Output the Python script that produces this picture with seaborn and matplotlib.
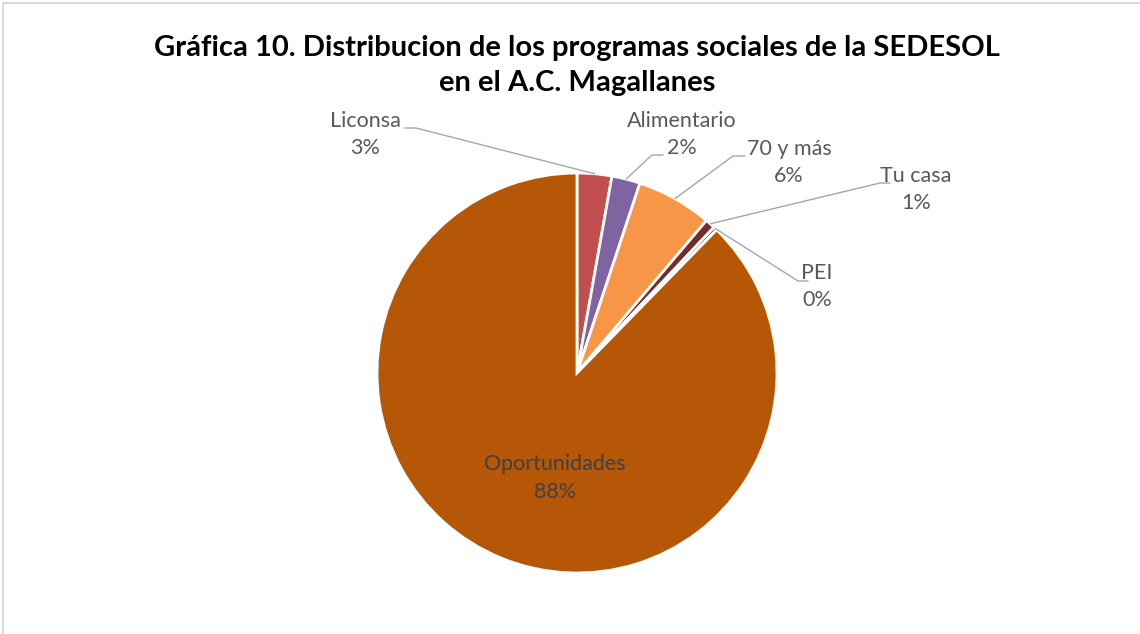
import numpy as np
import matplotlib
matplotlib.use("Agg")
import matplotlib.pyplot as plt
import seaborn as sns

# Data (percent of programs)
programas = ["Liconsa", "Alimentario", "70 y más", "Tu casa", "PEI", "Oportunidades"]
valores = [2.8, 2.3, 6.1, 0.8, 0.3, 87.7]
colores = ["#C0504D", "#8064A2", "#F79646", "#772C2A", "#5F497A", "#B65708"]

sns.set_theme(style="white")
plt.rcParams["font.family"] = ["Lato", "DejaVu Sans"]

W, H = 1140, 634
fig = plt.figure(figsize=(W / 100, H / 100), dpi=100)
ax = fig.add_axes([0, 0, 1, 1])

cx, cy, r = 577, H - 373, 200
wedges, _ = ax.pie(valores, colors=colores, startangle=90, counterclock=False,
                   center=(cx, cy), radius=r, frame=True,
                   wedgeprops=dict(edgecolor="white", linewidth=2))
ax.set_xlim(0, W)
ax.set_ylim(0, H)
ax.set_aspect("equal")
ax.axis("off")

# chart frame (light gray border at left/top)
ax.plot([3, 3, W + 5], [-5, H - 3, H - 3], color="#D9D9D9", lw=1.5)

total = sum(valores)
pcts = [f"{round(v / total * 100):.0f}%" for v in valores]

# label layout: text centre (x, y in px from top), elbow point, line end near text
layout = {
    "Liconsa": dict(txt=(365, 121), elbow=(416, 128), end=(405, 128)),
    "Alimentario": dict(txt=(682, 121), elbow=(652, 155), end=(663, 155)),
    "70 y más": dict(txt=(789, 149), elbow=(733, 156), end=(745, 156)),
    "Tu casa": dict(txt=(916, 176), elbow=(880, 183), end=(890, 183)),
    "PEI": dict(txt=(817, 273), elbow=(798, 281), end=(808, 281)),
}

texto = "#595959"
fs = 15.5
for w, nombre, pct in zip(wedges, programas, pcts):
    if nombre == "Oportunidades":
        ax.text(555, H - 464, nombre, ha="center", va="center", fontsize=fs, color="#404040")
        ax.text(555, H - 492, pct, ha="center", va="center", fontsize=fs, color="#404040")
        continue
    lay = layout[nombre]
    ang = np.deg2rad((w.theta1 + w.theta2) / 2)
    px, py = cx + r * np.cos(ang), cy + r * np.sin(ang)
    ex, ey = lay["elbow"]
    fx, fy = lay["end"]
    ax.plot([px, ex, fx], [py, H - ey, H - fy], color="#A6A6A6", lw=1)
    tx, ty = lay["txt"]
    ax.text(tx, H - ty, nombre, ha="center", va="center", fontsize=fs, color=texto)
    ax.text(tx, H - ty - 27, pct, ha="center", va="center", fontsize=fs, color=texto)

ax.text(577, H - 48, "Gráfica 10. Distribucion de los programas sociales de la SEDESOL",
        ha="center", va="center", fontsize=21, fontweight="bold", color="black")
ax.text(577, H - 83, "en el A.C. Magallanes",
        ha="center", va="center", fontsize=21, fontweight="bold", color="black")

fig.savefig("out.png", dpi=100)
